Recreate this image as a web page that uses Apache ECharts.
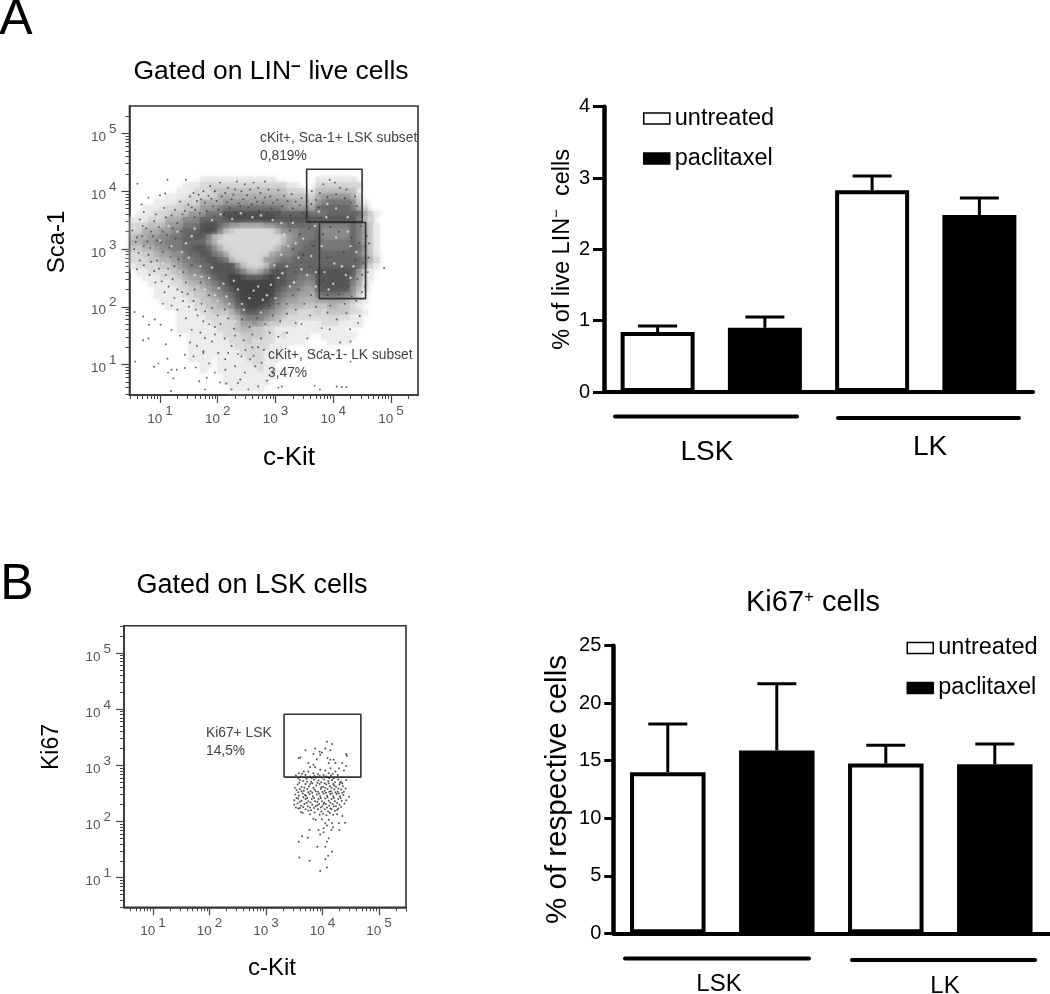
<!DOCTYPE html>
<html><head><meta charset="utf-8">
<style>html,body{margin:0;padding:0;background:#fff}#c{width:1050px;height:994px}</style>
<script src="https://cdn.jsdelivr.net/npm/echarts@6/dist/echarts.min.js"></script>
</head><body><div id="c"></div>
<script>
// ---------- bar data ----------
const barCatsA = ['LSK untreated','LSK paclitaxel','LK untreated','LK paclitaxel'];
const untreatedA = [0.84, null, 2.83, null];
const paclitaxelA = [null, 0.90, null, 2.48];
const meansA = [0.84, 0.90, 2.83, 2.48];
const errTopA = [0.925, 1.05, 3.03, 2.72];
const untreatedB = [14.0, null, 14.75, null];
const paclitaxelB = [null, 15.9, null, 14.7];
const meansB = [14.0, 15.9, 14.75, 14.7];
const errTopB = [18.2, 21.7, 16.35, 16.45];
const yTicksA = [0,1,2,3,4];
const yTicksB = [0,5,10,15,20,25];
// ---------- flow plots: all coordinates are log10 of the fluorescence ----------
const decadeTicks = [1,2,3,4,5];
// Shade of the cell cloud in plot A (hex digit, f = paper white), rows ey 4.3 ... 0.6, columns ex 0.55, 0.65 ...
const cloudRowsA = [
"",
"ffffffffffffeeeeeeeeeeeeefffffffeeeeeee",
"fffffffffeeedddddddddddddddeefffdddddddd",
"ffffffffeeedddcccccccccccccdddeeccccccc",
"ffffffeeeedddddbbbbbbbbbbbbccccdbaaaaabd",
"ffffeeeeddddbbbbaaaaaaaaaaaabbbca988889ce",
"ffeeeedddcccaaa988888888889aaaab8777778bd",
"feeedddcccaaa888666666666677777888777777ace",
"eeedddbbb9997777655555555666666666666668bd",
"dddcccaaa8886667899aaaa9988777778888887 8ace",
"ddbbbaa99777655 8bcdddddddb99988879999978ace",
"cbbaa9988776 68bcddddddddddca98887999997 8ace",
"bbaa99888777 79bdddddddddddca98877888887 8ace",
"ccbba9988776 679bdddddddddca988777888887 79ce",
"ddccbaa99877 6689bdddddddba9987777777777 8ace",
"dddccbba98877 6678cdddddaa988777777777777 8bd",
"eddddccba98877 66669cdddc97777777777777779ce",
"feeddddcba9987 666679bcb9766777776666666 9ce",
"ffeeedddcbaa98 7665567776566778886666667ace",
"fffeeeeddcbba9 87655555555667889966666 68ad",
"ffffeeeeddccba 98765555555678 89aa7666669bd",
"ffffeeeeeddccb a98765555557899aab8777789ce",
"fffffeeeeeddcc ba9865555568 9aabbbaaaaabcde",
"ffffffeeeeeddc cba97655567 9abbbccccbbccde",
"ffffffffeeeedd cccb9766789abccdddc dccccdde",
"ffffffffeeeeed dddcb98889abcdddddddddddee",
"ffffffffeeeeee ddddcaa9abccdddeeeedddeeee",
"ffffffffeeeeee edddcbbccddeeeeeeeeeeee",
"ffffffffffeeee eedddccccddedeeeeffeeeeee",
"ffffffffffeeee eeedddcddddeeeeeffffeeeef",
"ffffffffffeeee eeeeddddddeee",
"ffffffffffeeee eeeeeddddeeef",
"ffffffffffeeee feeeeedddeeef",
"ffffffffffffee feeeeeeddeeff",
"ffffffffffffef feeeeeeedee",
"ffffffffffffff ffeeeeeeeee",
"ffffffffffffff ffeeeeeeeef",
"ffffffffffffff fffeeeeeeff"
];
// Individually visible events in plot A
const sparseDotsA = [[.61,4.13],[1.13,4.2],[1.45,4.2],[1,3.93],[1.09,3.96],[.8,3.89],[.68,3.77],[.72,3.64],[1.07,3.71],[.93,3.6],[.65,3.51],[.56,1.91],[.71,1.83],[.81,1.69],[.91,1.78],[1.01,1.69],[.71,1.42],[.8,1.45],[.57,1.05],[.97,1.02],[.9,.96],[1.13,1.1],[1.2,.91],[1.29,.91],[1.43,.94],[1.14,.86],[1.23,.76],[1.68,.71],[1.81,.77],[1.78,.57],[1.19,.54],[2.04,.69],[2.15,.67],[2.24,.57],[2.39,.74],[2.53,.57],[2.7,.62],
[4.88,2.67],[4.61,2.85],[4.58,3.22],[4.46,1.84],[4.43,1.72],[4.29,1.61],[4.12,1.38],[3.94,1.61],[3.8,1.63],[4.06,1.78],[4.23,1.89],[3.68,.63],[3.77,.57],[4.06,.62],[4.15,.61],[4.23,.61],[3.05,.6],[3.11,.62],
[3.94,4.2],[4.12,4.06],[3.77,3.97],[3.63,4],[3.83,4.12],[4.03,4.15],[4.23,4.03],[4.38,3.91],[4.41,3.74],[3.7,3.85],[3.9,3.9],[4.05,3.95],[4.2,3.88],[3.75,3.72],[3.62,3.78],[4.3,3.8],
[1.58,3.97],[1.75,4],[1.87,4.09],[2.04,4.15],[2.18,4.06],[2.33,4.17],[2.47,4.12],[2.62,4.15],[2.82,4.17],[1.84,3.92],[1.95,4],[2.13,3.97],[2.3,4.03],[2.41,4],[2.56,4.03],[2.7,4.06],[2.88,4.03],[1.64,3.83],[1.49,3.77],[1.78,3.8],[1.98,3.83],[2.24,3.86],[2.44,3.86],[2.65,3.89],[2.82,3.89],[1.26,3.68],[1.43,3.66],[1.61,3.68],[1.81,3.66],[2.01,3.68],[2.21,3.71],[2.39,3.74],[2.59,3.77],[2.79,3.8],[2.96,3.8],[3.05,4.02],[3.15,3.92],[3.28,3.95],[3.35,3.82],[3.45,3.88],
[1.43,1.17],[1.52,1.38],[1.64,1.32],[1.58,1.14],[1.78,1.46],[1.75,1.23],[1.9,1.4],[2.01,1.2],[2.13,1.09],[2.24,1.32],[2.41,1.14],[2.56,1.09],[2.65,.97],[2.76,1.03],[2.47,.86],[2.3,.97],[2.13,.91],[1.95,.86],[2.35,.68],[1.55,1.6],[1.35,1.5],[1.2,1.6],[1.1,1.35],[1.62,.95],[1.85,1.02],[2.85,.72],[2.95,.85],[2.6,1.3],[2.8,1.25],[3.55,1.45],[3.65,1.2],[3.8,1.25],[3.95,1.1],[4.1,1.15],[4.3,1.05],[4.3,1.4],[3.45,1.7],[3.6,1.85],[3.9,1.9],
[.6,3.2],[.72,3.05],[.55,3],[.85,3.3],[.95,3.15],[.8,2.9],[.65,2.8],[.95,2.8],[1.05,2.95],[.9,2.62],[1.1,2.55],[1.25,2.7],[1.15,2.35],[1.3,2.3],[1.4,2.1],[1.5,2],[1.3,1.95],[1.65,1.85],[1.75,1.75],[1.45,1.8],[1.95,1.65],[.7,3.4],[.9,3.48],[1.1,3.55],[1.3,3.45],[1.05,3.3],
[3.2,2.05],[3.35,1.95],[3.5,2.05],[3.7,2],[3.95,2.02],[4.2,2.05],[4.4,2.1],[4.55,2.35],[4.6,2.6],[4.55,3.05],[4.48,3.4],[4.62,3.1],[4.52,2.75],
// upper arc
[1.52,3.91],[1.67,3.94],[1.71,3.86],[1.89,3.87],[2.07,3.91],[2.16,3.81],[2.27,3.94],[2.36,3.79],[2.51,3.93],[2.53,3.72],[2.68,3.82],[2.74,3.97],[2.91,3.91],[2.93,3.7],[3.03,3.85],[3.12,3.74],[3.21,3.83],[3.3,3.7],[3.42,3.76],[1.35,3.82],[1.39,3.6],[1.55,3.72],[1.69,3.62],[1.92,3.74],[2.11,3.6],[2.31,3.63],[2.47,3.6],[2.71,3.66],[2.86,3.6],[3.08,3.63],[3.26,3.58],[3.47,3.62],[1.2,3.58],[1.6,3.55],[1.95,3.57],[2.2,3.54],
// left flank
[.52,3.32],[.58,3.12],[.63,2.93],[.69,3.22],[.76,3.36],[.78,3.13],[.83,3.02],[.88,3.22],[.98,3.38],[1.02,3.11],[1.12,3.24],[1.16,3.02],[1.22,3.36],[1.27,3.18],[1.37,3.3],[.6,2.65],[.72,2.72],[.82,2.55],[.85,2.78],[.98,2.66],[1.03,2.44],[1.14,2.66],[1.18,2.86],[1.32,2.82],[1.4,2.6],[1.45,2.42],[1.55,2.72],[1.22,2.48],[.92,2.42],[1.08,2.25],[1.25,2.15],[1.38,2.25],[1.48,2.22],[1.6,2.3],[1.7,2.42],[1.58,2.1],[1.72,2.05],[1.85,2.2],[1.2,2.02],[1.05,2.05],
// lower wedge
[1.62,1.95],[1.78,1.92],[1.9,1.98],[2,1.85],[2.12,1.95],[1.85,1.7],[2.05,1.7],[2.18,1.8],[2.28,1.62],[2.42,1.78],[2.55,1.65],[2.68,1.8],[2.82,1.7],[2.95,1.85],[3.08,1.75],[3.2,1.88],[3.35,1.72],[1.7,1.55],[1.95,1.52],[2.12,1.45],[2.3,1.5],[2.45,1.42],[2.6,1.52],[2.75,1.45],[2.9,1.55],[3.05,1.48],[3.2,1.55],[2.48,1.25],[2.35,1.18],[2.62,1.15],[2.7,1.3],[2.18,1.2],[3.3,2.2],[3.05,2.05],[2.9,2.02],[1.75,1.2],
// right part
[3.25,3.32],[3.42,3.25],[3.58,3.35],[3.82,3.25],[3.95,3.38],[4.1,3.3],[4.32,3.2],[4.45,3.1],[3.3,3],[3.48,2.9],[3.65,3.05],[3.9,2.85],[4.18,2.95],[4.38,2.8],[3.35,2.6],[3.6,2.7],[3.82,2.45],[4.05,2.62],[4.25,2.35],[4.42,2.48],[3.4,2.3],[3.62,2.2],[3.9,2.2],[4.1,2.22],[4.32,2.18],[4.5,2.55],[4.5,2.25]];
// Pale gaps between the events inside the dark parts of the cloud in plot A
const paleSpecksA = [[1.3,3.3],[1.45,3.1],[1.2,3.05],[1.6,3.35],[1.5,2.85],[1.7,2.7],[1.85,2.5],[1.6,2.55],[1.95,2.2],[2.1,2.4],[2.2,2.05],[2.35,2.3],[2.55,2.15],[2.7,2.35],[2.85,2.2],[3.05,2.5],[3.2,2.7],[3.35,3.1],[3.15,3.25],[3.4,2.85],[3.55,2.55],[3.7,2.35],[3.85,2.6],[4,2.4],[4.15,2.7],[4.3,2.5],[4.4,2.95],[4.05,3.2],[3.8,3.05],[4.25,3.3],[3.3,3.45],[2.95,3.5],[2.6,3.55],[2.25,3.52],[1.9,3.5],[1.05,2.75],[1.35,2.6],[1,3.15],[1.15,3.4],[3.75,3.65],[4.05,3.7],[4.25,3.55],[3.9,3.78],[3.1,2.9],[3.25,2.35],[2.45,1.95],[2.75,1.9],[2,2.1],[2.3,1.75],[3,2.15],
[1.38,2.95],[1.55,3.22],[1.72,2.52],[1.78,2.3],[1.9,2.68],[2.02,2.32],[2.15,2.18],[2.28,2.45],[2.42,2.05],[2.62,2.28],[2.78,2.12],[2.92,2.38],[2.98,2.72],[3.12,2.58],[3.22,3.05],[3.32,2.42],[3.45,2.65],[3.48,3.18],[3.62,2.88],[3.7,2.6],[3.92,2.3],[4.02,2.75],[4.22,2.55],[4.35,2.7],[4.3,3.05],[3.68,3.4],[3.88,3.55],[2.05,3.6],[2.4,3.62],[2.75,3.58],[3.1,3.45]];
const gateLskA = [[3.54,3.47],[3.54,4.38],[4.5,4.38],[4.5,3.47],[3.54,3.47]];
const gateLkA = [[3.76,3.46],[3.76,2.14],[4.56,2.14],[4.56,3.46],[3.76,3.46]];
const gateKi67B = [[3.32,2.79],[3.32,3.91],[4.68,3.91],[4.68,2.79],[3.32,2.79]];
const eventsB = [[4.08,3.42],[4.17,3.38],[3.7,3.27],[3.87,3.3],[4.05,3.3],[4.14,3.27],[3.95,3.24],[3.99,3.23],[3.84,3.2],[3.96,3.19],[3.58,3.13],[3.61,3.14],[3.9,3.11],[4.42,3.2],[4.43,3.17],[4.09,3.13],[4.14,3.1],[4.2,3.1],[3.75,3.04],[3.84,3.01],[3.78,2.97],[3.87,2.97],[4.11,3.04],[4.23,3.04],[4.35,3.04],[4.42,2.99],[3.67,2.89],[3.75,2.89],[3.96,2.92],[4.05,2.91],[4.14,2.95],[4.23,2.89],[4.29,2.95],[4.38,2.91],[3.58,2.86],[3.84,2.86],[4.02,2.83],[4.11,2.86],
[3.53,2.82],[3.62,2.8],[3.7,2.83],[3.78,2.8],[3.86,2.81],[3.92,2.84],[3.99,2.78],[4.07,2.8],[4.15,2.82],[4.2,2.77],[4.27,2.83],[4.34,2.79],
[3.6,2.74],[3.66,2.72],[3.72,2.76],[3.8,2.71],[3.85,2.75],[3.93,2.73],[3.98,2.7],[4.03,2.75],[4.1,2.72],[4.17,2.74],[4.22,2.7],[4.28,2.75],[4.33,2.71],[4.42,2.74],
[3.56,2.66],[3.63,2.62],[3.7,2.67],[3.76,2.63],[3.82,2.68],[3.89,2.64],[3.95,2.67],[4.01,2.62],[4.07,2.66],[4.13,2.63],[4.19,2.67],[4.24,2.62],[4.3,2.66],[4.36,2.63],
[3.54,2.56],[3.6,2.58],[3.67,2.55],[3.73,2.58],[3.79,2.54],[3.86,2.57],[3.92,2.53],[3.97,2.58],[4.04,2.55],[4.09,2.58],[4.15,2.54],[4.21,2.57],[4.27,2.53],[4.33,2.57],[4.38,2.53],
[3.52,2.48],[3.58,2.46],[3.65,2.5],[3.71,2.46],[3.77,2.49],[3.83,2.45],[3.9,2.48],[3.96,2.45],[4.02,2.5],[4.08,2.46],[4.14,2.49],[4.19,2.45],[4.25,2.49],[4.31,2.45],[4.37,2.47],[4.47,2.44],
[3.5,2.38],[3.57,2.41],[3.63,2.37],[3.7,2.4],[3.75,2.36],[3.81,2.4],[3.87,2.36],[3.93,2.4],[3.99,2.36],[4.05,2.41],[4.11,2.37],[4.16,2.4],[4.22,2.36],[4.28,2.4],[4.34,2.37],[4.42,2.38],
[3.5,2.3],[3.56,2.32],[3.62,2.28],[3.68,2.31],[3.74,2.27],[3.82,2.3],[3.88,2.27],[3.94,2.31],[4,2.27],[4.06,2.31],[4.12,2.28],[4.18,2.31],[4.24,2.27],[4.3,2.3],
[3.57,2.23],[3.7,2.22],[3.8,2.2],[3.92,2.22],[3.98,2.18],[4.04,2.22],[4.1,2.18],[4.16,2.22],[4.22,2.19],[4.28,2.23],
[3.65,2.15],[3.75,2.19],[3.84,2.05],[3.88,2.03],[3.77,1.85],[3.93,1.85],[3.96,1.77],[4.02,1.81],[3.64,1.74],[3.58,1.64],[3.74,1.71],[4.11,1.7],[4.08,1.64],[3.91,1.55],[4.05,1.55],[4.17,1.46],[4.1,1.39],[3.59,1.36],[3.77,1.3],[4.05,1.33],[4.08,1.18],[3.96,1.12],[4.05,1.97],[4.11,2.03],[4.17,1.97],[4.29,1.97],[4.4,1.98],[4.3,1.85],[4.16,1.85],
[3.57,2.77],[3.64,2.85],[3.73,2.71],[3.81,2.77],[3.89,2.78],[3.95,2.81],[4.04,2.68],[4.12,2.77],[4.18,2.85],[4.25,2.79],[4.31,2.69],[3.59,2.69],[3.68,2.6],[3.78,2.67],[3.84,2.6],[3.91,2.69],[3.98,2.61],[4.05,2.6],[4.11,2.68],[4.16,2.6],[4.21,2.64],[4.28,2.59],[4.35,2.68],[3.51,2.6],[3.57,2.52],[3.63,2.54],[3.69,2.47],[3.75,2.52],[3.82,2.51],[3.88,2.54],[3.94,2.5],[4,2.53],[4.06,2.51],[4.12,2.53],[4.17,2.5],[4.23,2.52],[4.29,2.5],[4.35,2.51],[4.41,2.59],
[3.54,2.42],[3.6,2.35],[3.66,2.43],[3.73,2.42],[3.79,2.34],[3.85,2.42],[3.91,2.35],[3.97,2.42],[4.03,2.34],[4.09,2.43],[4.14,2.34],[4.2,2.42],[4.26,2.33],[4.32,2.42],[4.39,2.32],[3.53,2.25],[3.6,2.24],[3.66,2.26],[3.72,2.33],[3.78,2.25],[3.85,2.24],[3.91,2.29],[3.97,2.25],[4.02,2.31],[4.08,2.25],[4.14,2.23],[4.2,2.27],[4.26,2.21],[4.33,2.26],
[3.62,2.17],[3.78,2.13],[3.86,2.16],[3.95,2.12],[4.01,2.14],[4.07,2.11],[4.13,2.15],[4.19,2.12],[4.26,2.13],[4.35,2.1],[3.99,2.04],[4.08,1.93],[4.19,1.9],[4.02,1.88]];

// ---------- fixed layout ----------
const FONT = 'Liberation Sans';
const rectA = {left:129.5, top:106, width:288.5, height:289};
const rectB = {left:124, top:625.7, width:282, height:281.6};
const rangeAx=[.472,5.468], rangeAy=[.472,5.476], rangeBx=[.486,5.479], rangeBy=[.473,5.486];
const minorTicks=[];
for(let n=0;n<6;n++)for(let m=2;m<10;m++){const v=n+Math.log10(m);if(v>.47&&v<5.48)minorTicks.push(v);}
const tickLabel=v=>`{b|10}{s|${Math.round(v)}}`;
const tickRich={b:{fontSize:13.5,color:'#555',fontFamily:FONT,padding:[8,0,0,0]},s:{fontSize:13.5,color:'#555',fontFamily:FONT,padding:[0,0,8,3]}};
function majorAxis(gi,range,kind,margin){return{type:'value',gridIndex:gi,min:range[0],max:range[1],position:kind==='x'?'bottom':'left',splitLine:{show:false},
 axisLine:{show:true,onZero:false,lineStyle:{color:'#333',width:1.5}},axisTick:{show:true,length:8,customValues:decadeTicks,lineStyle:{color:'#444',width:1.2}},
 axisLabel:{customValues:decadeTicks,margin,formatter:tickLabel,rich:tickRich,showMinLabel:true,showMaxLabel:true}};}
function minorAxis(gi,range,kind){return{type:'value',gridIndex:gi,min:range[0],max:range[1],position:kind==='x'?'bottom':'left',splitLine:{show:false},
 axisLine:{show:false},axisTick:{show:true,length:4,customValues:minorTicks,lineStyle:{color:'#444',width:1}},axisLabel:{show:false}};}
function barY(gi,max,step,name,gap,rich,fs,tick,margin){return{type:'value',gridIndex:gi,min:0,max,interval:step,splitLine:{show:false},
 axisLine:{show:true,lineStyle:{color:'#000',width:4.5}},axisTick:{show:true,length:tick,lineStyle:{color:'#000',width:3}},
 axisLabel:{color:'#000',fontSize:20,fontFamily:FONT,margin},
 name,nameLocation:'middle',nameGap:gap,nameTextStyle:{color:'#000',fontSize:fs,fontFamily:FONT,rich}};}
function barX(gi){return{type:'category',gridIndex:gi,data:barCatsA,axisLine:{show:true,lineStyle:{color:'#000',width:4}},axisTick:{show:false},axisLabel:{show:false},splitLine:{show:false}};}
const cloud=[];
cloudRowsA.forEach((row,r)=>{const s=row.replace(/ /g,'');for(let i=0;i<s.length;i++){const v=parseInt(s[i],16);if(v<15)cloud.push([.55+.1*i,4.3-.1*r,v]);}});
function gateSeries(a,b,data){return{type:'line',xAxisIndex:a,yAxisIndex:b,data,showSymbol:false,silent:true,z:5,animation:false,lineStyle:{color:'#333',width:1.6}};}
function dots(a,b,data,color,size,z){return{type:'scatter',xAxisIndex:a,yAxisIndex:b,data,symbolSize:size,silent:true,z,animation:false,itemStyle:{color}};}
function errBars(a,b,vals,tops){return{type:'custom',name:'error',xAxisIndex:a,yAxisIndex:b,z:1,silent:true,animation:false,
 data:vals.map((v,i)=>[i,v,tops[i]]),encode:{x:0,y:[1,2]},
 renderItem(p,api){const base=api.coord([api.value(0),api.value(1)]),top=api.coord([api.value(0),api.value(2)]);const st={stroke:'#000',lineWidth:3};
  return{type:'group',children:[{type:'line',shape:{x1:base[0],y1:base[1],x2:top[0],y2:top[1]},style:st},{type:'line',shape:{x1:top[0]-19.5,y1:top[1],x2:top[0]+19.5,y2:top[1]},style:st}]};}};}
function bars(a,b,name,data,fill,w){return{type:'bar',name,xAxisIndex:a,yAxisIndex:b,data,barWidth:w,barGap:'-100%',z:3,animation:false,silent:true,itemStyle:{color:fill,borderColor:'#000',borderWidth:4}};}
function legend(left,top){return{left,top,orient:'vertical',itemWidth:26,itemHeight:11,itemGap:16,icon:'rect',selectedMode:false,data:['untreated','paclitaxel'],
 textStyle:{color:'#000',fontSize:23.5,fontFamily:FONT,padding:0},itemStyle:{borderWidth:1.5,borderColor:'#000'}};}
function txt(text,x,y,size,color,extra){return Object.assign({type:'text',x,y,z:30,silent:true,style:{text,font:`${size}px "${FONT}"`,fill:color||'#000',textAlign:'center',textVerticalAlign:'middle'}},extra||{});}
function note(text,x,y){const t=txt(text,x,y,13.8,'#444');t.style.textAlign='left';return t;}
function hbar(x1,x2,y){return{type:'line',z:30,silent:true,shape:{x1,y1:y,x2,y2:y},style:{stroke:'#000',lineWidth:4,lineCap:'round'}};}

const option={animation:false,backgroundColor:'#fff',
 title:[
  {text:'Gated on LIN{s|−} live cells',left:266,top:53,textAlign:'center',textStyle:{fontSize:26.5,fontWeight:'normal',color:'#000',fontFamily:FONT,rich:{s:{fontSize:17,fontWeight:'bold',padding:[0,0,9,0]}}}},
  {text:'Gated on LSK cells',left:247,top:567,textAlign:'center',textStyle:{fontSize:27,fontWeight:'normal',color:'#000',fontFamily:FONT}},
  {text:'Ki67{s|+} cells',left:808,top:583,textAlign:'center',textStyle:{fontSize:29,fontWeight:'normal',color:'#000',fontFamily:FONT,rich:{s:{fontSize:17,padding:[0,0,10,0]}}}}
 ],
 legend:[legend(638,101.5),legend(901.5,631)],
 grid:[
  Object.assign({show:true,borderColor:'#333',borderWidth:1.6,backgroundColor:'#fff'},rectA),
  Object.assign({show:false},rectA),
  Object.assign({show:true,borderColor:'#333',borderWidth:1.6,backgroundColor:'#fff'},rectB),
  Object.assign({show:false},rectB),
  {left:604,top:106.7,width:429,height:285.3},
  {left:613.3,top:645.7,width:436,height:287.6}
 ],
 xAxis:[majorAxis(0,rangeAx,'x',9),minorAxis(1,rangeAx,'x'),majorAxis(2,rangeBx,'x',9),minorAxis(3,rangeBx,'x'),barX(4),barX(5)],
 yAxis:[majorAxis(0,rangeAy,'y',13),minorAxis(1,rangeAy,'y'),majorAxis(2,rangeBy,'y',13),minorAxis(3,rangeBy,'y'),
  barY(4,yTicksA[4],1,'% of live LIN{s|−}  cells',24,{s:{fontSize:15,padding:[0,0,12,0]}},23.5,11,14),
  barY(5,yTicksB[5],5,'% of respective cells',40,null,29.5,9,12)],
 series:[
  {type:'custom',xAxisIndex:0,yAxisIndex:0,data:cloud,silent:true,animation:false,z:1,encode:{x:0,y:1},
   renderItem(p,api){const c=api.coord([api.value(0),api.value(1)]),s=api.size([.1,.1]),g=Math.round(255*Math.pow(api.value(2)/15,1.15)),col=`rgb(${g},${g},${g})`;
    return{type:'rect',shape:{x:c[0]-s[0]/2-.3,y:c[1]-s[1]/2-.3,width:s[0]+.6,height:s[1]+.6},style:{fill:col,shadowColor:col,shadowBlur:6}};}},
  dots(0,0,paleSpecksA,'#e2e2e2',2.4,2),
  dots(0,0,sparseDotsA,'#3a3a3a',1.9,3),
  gateSeries(0,0,gateLskA),gateSeries(0,0,gateLkA),
  dots(2,2,eventsB,'#2a2a2a',2,3),
  gateSeries(2,2,gateKi67B),
  bars(4,4,'untreated',untreatedA,'#fff',74),bars(4,4,'paclitaxel',paclitaxelA,'#000',74),
  errBars(4,4,meansA,errTopA),
  bars(5,5,'untreated',untreatedB,'#fff',75.5),bars(5,5,'paclitaxel',paclitaxelB,'#000',75.5),
  errBars(5,5,meansB,errTopB)
 ],
 graphic:[
  txt('A',16,20,50,'#000'),txt('B',17,585,50,'#000'),
  txt('Sca-1',57,242,24,'#000',{rotation:Math.PI/2}),
  txt('c-Kit',289,458,26,'#000'),
  txt('Ki67',52,747,23,'#000',{rotation:Math.PI/2}),
  txt('c-Kit',272,968,24,'#000'),
  note('cKit+, Sca-1+ LSK subset',260,138),note('0,819%',260,156),
  note('cKit+, Sca-1- LK subset',268,355),note('3,47%',268,373),
  note('Ki67+ LSK',206,733),note('14,5%',206,751),
  hbar(615,797,416.5),hbar(838,1019,418),
  txt('LSK',707,452,28),txt('LK',930,447,28),
  hbar(625,809,958.5),hbar(852,1035,960),
  txt('LSK',719,984,24),txt('LK',945,986,24)
 ]
};
const chart=echarts.init(document.getElementById('c'),null,{renderer:'canvas'});
chart.setOption(option);
</script></body></html>
